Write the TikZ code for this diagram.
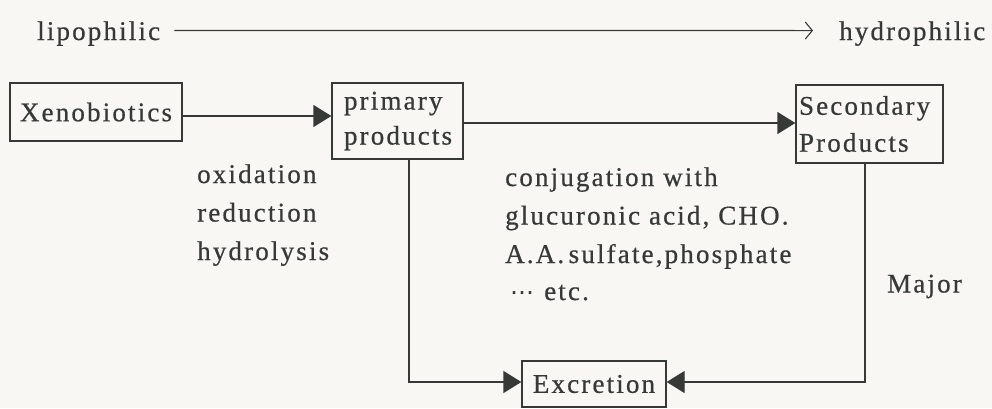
\documentclass[tikz,border=0pt]{standalone}
\usepackage{fontspec}
\setmainfont{Liberation Serif}
\newfontfamily\tf[LetterSpace=8,FakeBold=0.6]{Liberation Serif}
\newfontfamily\dv{DejaVu Sans}
\usetikzlibrary{arrows.meta}
\definecolor{ink}{RGB}{55,57,55}
\definecolor{paper}{RGB}{248,247,244}
\tikzset{
  txt/.style={font=\tf\fontsize{27}{36}\selectfont, text=ink, inner sep=0pt},
  boxnode/.style={draw=ink, line width=1.3pt, fill=paper},
  arr/.style={draw=ink, line width=1.3pt, -{Triangle[length=18pt,width=22pt]}},
  toparr/.style={draw=ink, line width=1.1pt, -{Straight Barb[length=7pt,width=17pt]}}
}
\begin{document}
\begin{tikzpicture}[x=1pt,y=-1pt]
\fill[paper] (0,0) rectangle (992,408);
\useasboundingbox (0,0) rectangle (992,408);

% top scale
\node[txt, anchor=base west] (lipo) at (37,40) {lipophilic};
\node[txt, anchor=base west] (hydro) at (839,40) {hydrophilic};
\draw[toparr] ([xshift=14pt,yshift=3pt]lipo.east) -- ([xshift=-26pt,yshift=3pt]hydro.west);

% boxes
\node[boxnode, txt, inner sep=0pt, minimum width=172pt, minimum height=58pt] (xeno) at (96,112) {Xenobiotics};
\node[boxnode, txt, inner sep=0pt, inner xsep=12pt, minimum width=131pt, minimum height=76pt,
      text width=107pt, align=left, font=\tf\fontsize{27}{35}\selectfont] (prim) at (397.5,121) {primary\\products};
\node[boxnode, txt, inner sep=0pt, inner xsep=3pt, minimum width=147pt, minimum height=78pt,
      text width=141pt, align=left, font=\tf\fontsize{27}{37}\selectfont] (sec) at (869.5,124) {Secondary\\Products};
\node[boxnode, txt, inner sep=0pt, minimum width=144pt, minimum height=46pt] (exc) at (594,384) {Excretion};

% connectors
\draw[arr] ([yshift=-4pt]xeno.east) -- ([yshift=-4pt]xeno.east -| prim.west);
\draw[arr] ([yshift=-2pt]prim.east) -- ([yshift=-2pt]prim.east -| sec.west);
\draw[arr] ([xshift=11.5pt]prim.south) |- ([yshift=2pt]exc.west);
\draw[arr] ([xshift=-4.5pt]sec.south) |- ([yshift=2pt]exc.east);

% left labels
\node[txt, anchor=base west] (ox) at (197,183) {oxidation};
\node[txt, anchor=base west] (red) at (197,221.5) {reduction};
\node[txt, anchor=base west] (hyd) at (197,260) {hydrolysis};

% middle labels
\node[txt, anchor=base west] (cj1) at (505,186) {conjugation with};
\node[txt, anchor=base west] (cj2) at (505,224.5) {glucuronic acid, CHO.};
\node[txt, anchor=base west] (cj3) at (505,263) {A.A.\,sulfate,phosphate};
\node[txt, anchor=base west] (cj4) at (510,300) {{\dv\fontsize{24}{30}\selectfont ⋯}\hspace{10pt}etc.};

% right label
\node[txt, anchor=base west] (major) at (887,292.5) {Major};
\end{tikzpicture}
\end{document}
